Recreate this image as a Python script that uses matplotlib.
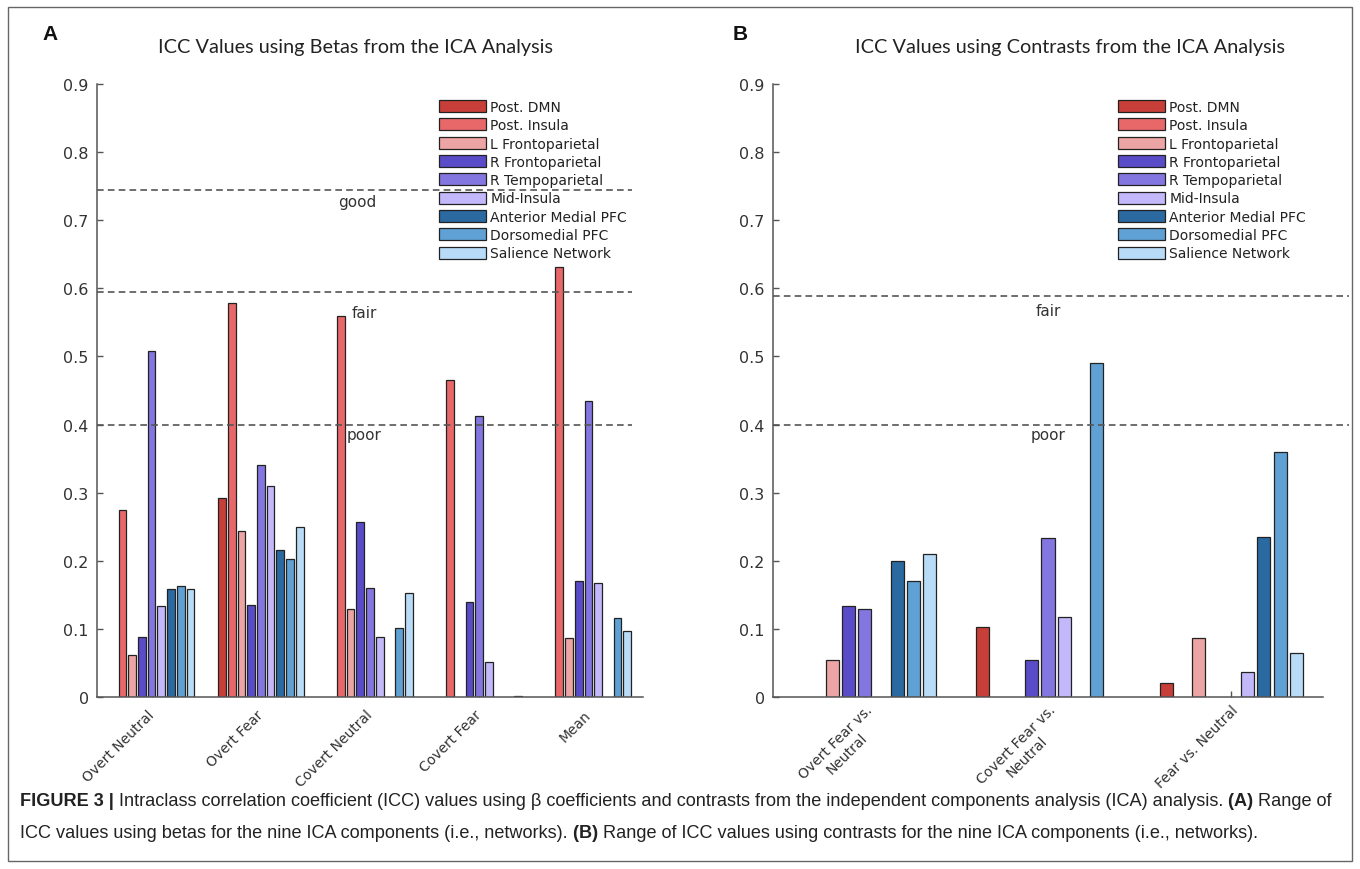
import matplotlib
matplotlib.use("Agg")
import matplotlib.pyplot as plt
import numpy as np
from matplotlib.patches import Rectangle

plt.rcParams["font.family"] = ["DejaVu Sans"]

# ---------------------------------------------------------------------------
# Data
# ---------------------------------------------------------------------------
networks = [
    "Post. DMN", "Post. Insula", "L Frontoparietal", "R Frontoparietal",
    "R Tempoparietal", "Mid-Insula", "Anterior Medial PFC",
    "Dorsomedial PFC", "Salience Network",
]
net_colors = [
    "#c73f38", "#e8686a", "#eda4a4", "#5a4bc9", "#8476e0",
    "#c3b8f9", "#2a6aa1", "#5fa1d5", "#b8dcf7",
]

beta_conditions = ["Overt Neutral", "Overt Fear", "Covert Neutral",
                   "Covert Fear", "Mean"]
beta_overt_neutral = [0.0, 0.275, 0.062, 0.088, 0.508, 0.134, 0.158, 0.163, 0.158]
beta_overt_fear = [0.292, 0.578, 0.243, 0.135, 0.340, 0.310, 0.216, 0.203, 0.250]
beta_covert_neutral = [0.0, 0.560, 0.129, 0.257, 0.160, 0.088, 0.0, 0.102, 0.153]
beta_covert_fear = [0.0, 0.465, 0.0, 0.140, 0.413, 0.052, 0.0, 0.0, 0.002]
beta_mean = [0.0, 0.632, 0.087, 0.171, 0.434, 0.168, 0.0, 0.116, 0.097]

contrast_conditions = ["Overt Fear vs.\nNeutral", "Covert Fear vs.\nNeutral",
                       "Fear vs. Neutral"]
con_overt = [0.0, 0.0, 0.054, 0.134, 0.129, 0.0, 0.200, 0.170, 0.210]
con_covert = [0.103, 0.0, 0.0, 0.054, 0.234, 0.117, 0.0, 0.490, 0.0]
con_fear = [0.021, 0.0, 0.086, 0.0, 0.0, 0.036, 0.235, 0.360, 0.064]

beta_thresholds = {"good": 0.745, "fair": 0.595, "poor": 0.400}
contrast_thresholds = {"fair": 0.589, "poor": 0.400}

TXT = "#333333"
AX = "#555555"


def grouped_bars(ax, groups, conditions, label_va, label_pad):
    n = len(networks)
    step = 0.8 / n
    width = 0.8 * step
    x = np.arange(1, len(conditions) + 1)
    data = np.array(groups, dtype=float)  # rows = conditions
    for j in range(n):
        vals = data[:, j].copy()
        vals[vals == 0] = np.nan
        ax.bar(x + (j - (n - 1) / 2) * step, vals, width,
               color=net_colors[j], edgecolor="#222222", linewidth=0.9,
               label=networks[j], zorder=2)
    ax.set_xlim(0.5, len(conditions) + 0.5)
    ax.set_ylim(0, 0.9)
    ax.set_yticks(np.arange(0, 0.91, 0.1))
    ax.set_yticklabels(["0"] + [f"{v:.1f}" for v in np.arange(0.1, 0.91, 0.1)])
    ax.set_xticks(x)
    ax.set_xticklabels(conditions, rotation=45, ha="right", va=label_va,
                       rotation_mode="anchor", multialignment="center",
                       fontsize=10, color=TXT)
    ax.tick_params(direction="in", length=4, color=AX, width=1)
    ax.tick_params(axis="y", labelsize=11.5, labelcolor=TXT, pad=6)
    ax.tick_params(axis="x", pad=label_pad)
    for s in ("top", "right"):
        ax.spines[s].set_visible(False)
    for s in ("left", "bottom"):
        ax.spines[s].set_color(AX)
        ax.spines[s].set_linewidth(1.1)


def threshold(ax, y, x0, x1, label, lx, ly):
    ax.plot([x0, x1], [y, y], color="#555555", lw=1.2, dashes=(4, 2.5),
            clip_on=False, zorder=3)
    ax.text(lx, ly, label, ha="center", va="center", fontsize=11, color=TXT)


fig = plt.figure(figsize=(13.6, 8.7), dpi=100)

# outer frame
fig.add_artist(Rectangle((8 / 1360, 8 / 870), 1344 / 1360, 854 / 870,
                         transform=fig.transFigure, fill=False,
                         edgecolor="#666666", lw=1.0))

axA = fig.add_axes([97 / 1360, 172 / 870, 546 / 1360, 613 / 870])
grouped_bars(axA, [beta_overt_neutral, beta_overt_fear, beta_covert_neutral,
                   beta_covert_fear, beta_mean], beta_conditions, "center", 11)
threshold(axA, beta_thresholds["good"], 0.5, 5.4, "good", 2.88, 0.727)
threshold(axA, beta_thresholds["fair"], 0.5, 5.4, "fair", 2.95, 0.565)
threshold(axA, beta_thresholds["poor"], 0.5, 5.4, "poor", 2.95, 0.385)

axB = fig.add_axes([773 / 1360, 172 / 870, 550 / 1360, 613 / 870])
grouped_bars(axB, [con_overt, con_covert, con_fear], contrast_conditions, "top", 4)
threshold(axB, contrast_thresholds["fair"], 0.5, 3.64, "fair", 2.0, 0.568)
threshold(axB, contrast_thresholds["poor"], 0.5, 3.64, "poor", 2.0, 0.385)

leg_kw = dict(loc="upper left", frameon=False, fontsize=10, handlelength=3.4,
              handleheight=0.95, labelspacing=0.31, handletextpad=0.3,
              borderpad=0, borderaxespad=0)
axA.legend(bbox_to_anchor=(0.626, 0.974), **leg_kw)
axB.legend(bbox_to_anchor=(0.627, 0.974), **leg_kw)
for ax in (axA, axB):
    for t in ax.get_legend().get_texts():
        t.set_color("#222222")
    for p in ax.get_legend().get_patches():
        p.set_edgecolor("#222222")

# titles and panel letters
title_font = ["Lato", "DejaVu Sans"]
fig.text(355 / 1360, 1 - 47 / 870, "ICC Values using Betas from the ICA Analysis",
         ha="center", va="center", fontsize=14.3, family=title_font, color="#222222")
fig.text(1070 / 1360, 1 - 47 / 870, "ICC Values using Contrasts from the ICA Analysis",
         ha="center", va="center", fontsize=14.3, family=title_font, color="#222222")
fig.text(42 / 1360, 1 - 35 / 870, "A", ha="left", va="center", fontsize=15,
         weight="bold", family="Liberation Sans", color="#111111")
fig.text(733 / 1360, 1 - 35 / 870, "B", ha="left", va="center", fontsize=15,
         weight="bold", family="Liberation Sans", color="#111111")

# caption, drawn piece by piece so the bold parts sit inline
cap_font = ["Liberation Sans", "DejaVu Sans"]
caption_lines = [
    [("FIGURE 3 | ", "bold"),
     ("Intraclass correlation coefficient (ICC) values using \u03b2 coefficients and "
      "contrasts from the independent components analysis (ICA) analysis. ", "normal"),
     ("(A) ", "bold"), ("Range of", "normal")],
    [("ICC values using betas for the nine ICA components (i.e., networks). ", "normal"),
     ("(B) ", "bold"),
     ("Range of ICC values using contrasts for the nine ICA components (i.e., networks).",
      "normal")],
]
renderer = fig.canvas.get_renderer()
for li, pieces in enumerate(caption_lines):
    x_px = 20
    y = 1 - (802 + li * 32) / 870
    for txt, wt in pieces:
        t = fig.text(x_px / 1360, y, txt, ha="left", va="center", fontsize=13.1,
                     weight=wt, family=cap_font, color="#222222")
        bb = t.get_window_extent(renderer=renderer)
        x_px += bb.width

fig.savefig("out.png", dpi=100)
